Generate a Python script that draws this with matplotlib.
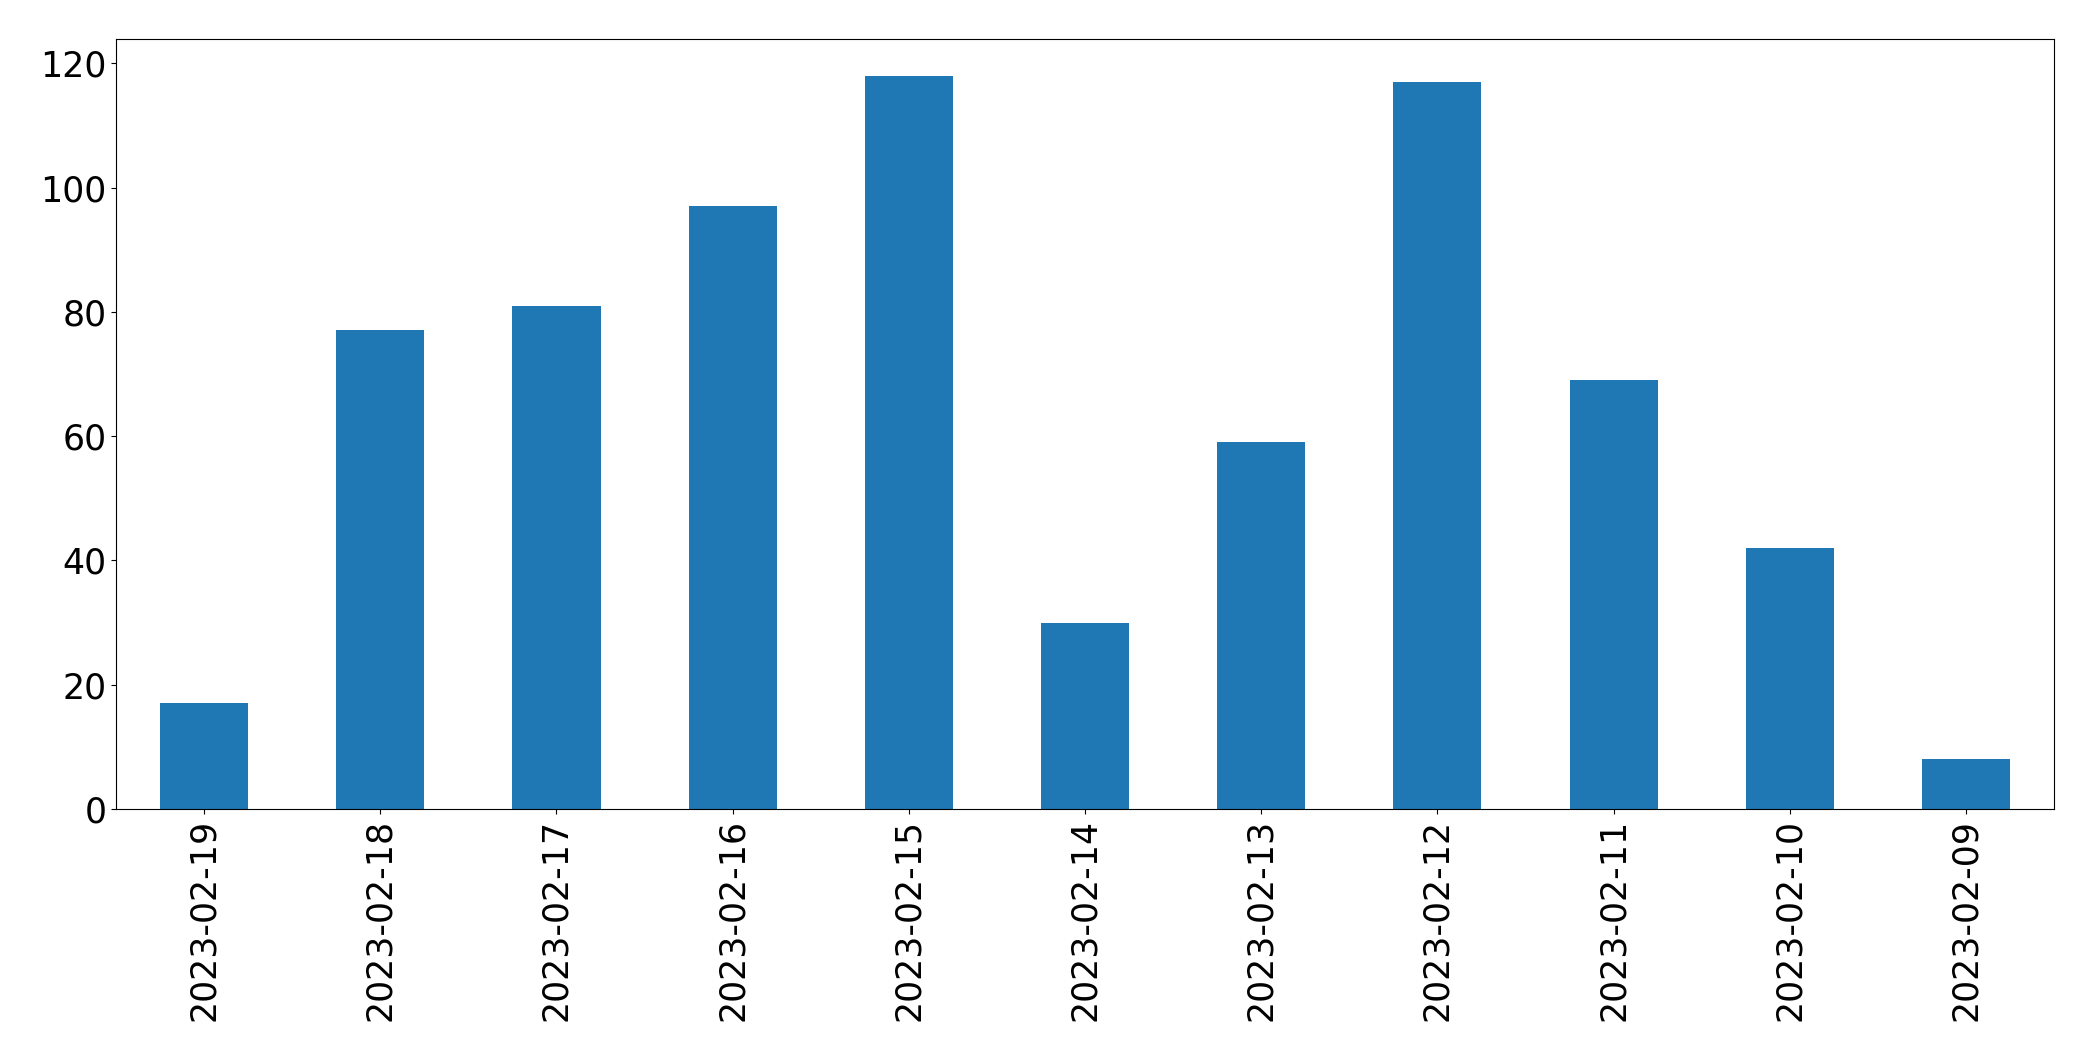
import matplotlib
matplotlib.use("Agg")
import matplotlib.pyplot as plt
import numpy as np

dates = ["2023-02-19", "2023-02-18", "2023-02-17", "2023-02-16", "2023-02-15",
         "2023-02-14", "2023-02-13", "2023-02-12", "2023-02-11", "2023-02-10",
         "2023-02-09"]
counts = [17, 77, 81, 97, 118, 30, 59, 117, 69, 42, 8]

fig = plt.figure(figsize=(20.93, 10.61), dpi=100)
ax = fig.add_axes([116/2093, 1 - 809/1061, (2054-116)/2093, (809-39)/1061])
x = np.arange(len(dates))
ax.bar(x, counts, width=0.5, color="#1f77b4")
ax.set_xlim(-0.5, len(dates) - 0.5)
ax.set_xticks(x)
ax.set_xticklabels(dates, rotation=90)
ax.tick_params(labelsize=25)
fig.savefig("out.png", dpi=100)
